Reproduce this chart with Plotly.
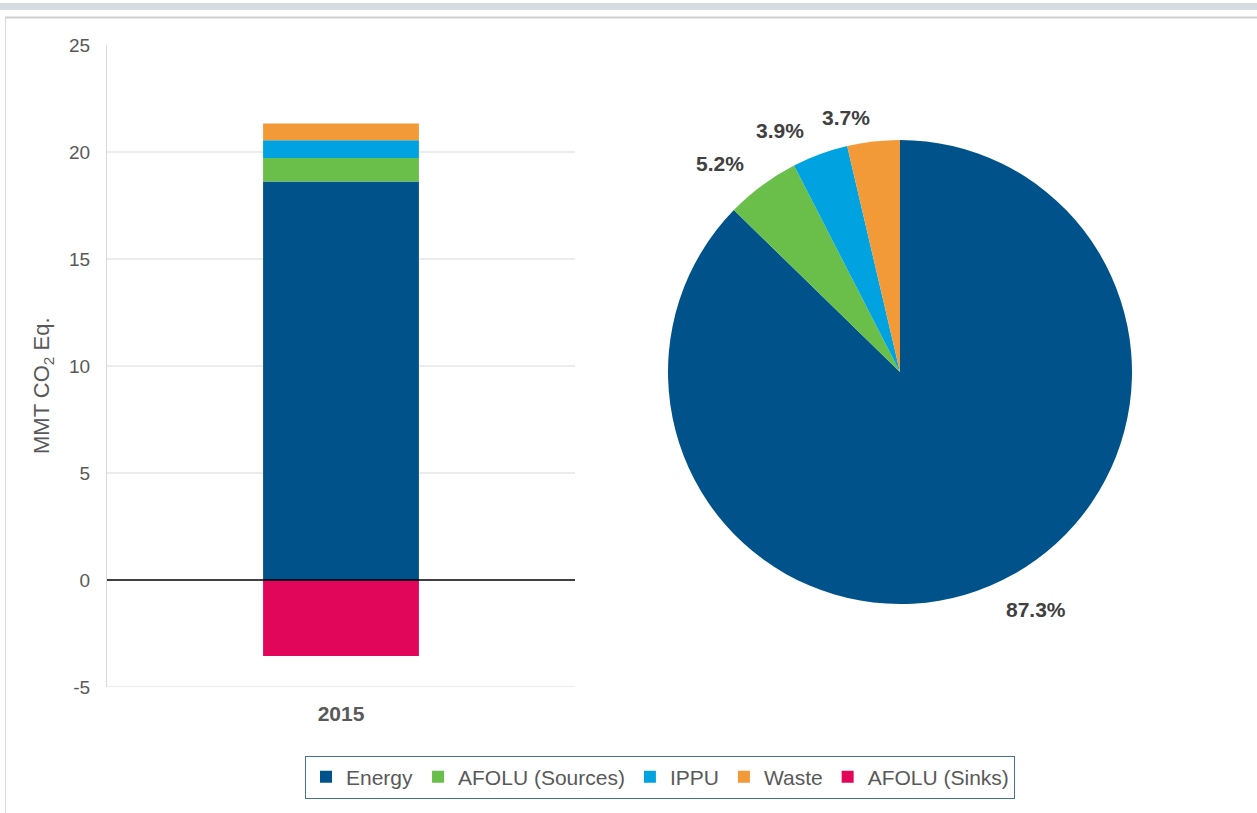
import math
import plotly.graph_objects as go

W, H = 1257, 813

categories = ["2015"]
series = ["Energy", "AFOLU (Sources)", "IPPU", "Waste", "AFOLU (Sinks)"]
values = [18.62, 1.10, 0.83, 0.78, -3.55]
colors = ["#00538A", "#6ABF4B", "#00A3E0", "#F39A38", "#E1065A"]
pie_labels = ["Energy", "AFOLU (Sources)", "IPPU", "Waste"]
pie_values = [18.62, 1.10, 0.83, 0.78]
y_ticks = [-5, 0, 5, 10, 15, 20, 25]
y_ticktext = ["-5", "0", "5", "10", "15", "20", "25"]
grid_vals = [-5, 5, 10, 15, 20]

FONT = "Liberation Sans, Arial, sans-serif"
GRAY = "#595959"

def px_x(p):
    return p / W

def px_y(p):
    return 1 - p / H

# pie geometry (pixels)
PIE_L, PIE_R, PIE_T, PIE_B = 668, 1132, 140, 604
PCX, PCY = (PIE_L + PIE_R) / 2, (PIE_T + PIE_B) / 2
PR = (PIE_R - PIE_L) / 2

fig = go.Figure()
for name, v, c in zip(series, values, colors):
    fig.add_trace(go.Bar(x=categories, y=[v], name=name, marker=dict(color=c, line=dict(width=0)),
                         xaxis="x", yaxis="y"))

fig.add_trace(go.Pie(labels=pie_labels, values=pie_values, sort=False, direction="clockwise",
                     rotation=0, marker=dict(colors=colors[:4], line=dict(width=0)),
                     textinfo="none", showlegend=False, hoverinfo="label+value+percent",
                     domain=dict(x=[px_x(PIE_L), px_x(PIE_R)], y=[px_y(PIE_B), px_y(PIE_T)]),
                     automargin=False))

# outside percentage labels, placed from the data (Excel-like placement)
annotations = []
total = sum(pie_values)
cum = 0.0
gap = 11
for v in pie_values:
    frac = v / total
    mid = (cum + frac / 2) * 2 * math.pi
    cum += frac
    s, c = math.sin(mid), math.cos(mid)
    px = PCX + (PR + gap) * s
    py = PCY - (PR + gap) * c
    if abs(s) > 0.2:
        xa = "left" if s > 0 else "right"
        xs = 10 if s > 0 else -10
    else:
        xa = "right"
        xs = 0
    ya = "top" if c < 0 else "bottom"
    annotations.append(dict(text="<b>%.1f%%</b>" % (frac * 100), xref="paper", yref="paper",
                            x=px_x(px), y=px_y(py), xanchor=xa, yanchor=ya, xshift=xs,
                            showarrow=False,
                            font=dict(size=21, color="#404040", family=FONT)))

annotations.append(dict(text="MMT CO<sub>2</sub> Eq.", xref="paper", yref="paper",
                        x=px_x(43), y=px_y(386), textangle=-90, showarrow=False,
                        font=dict(size=22, color=GRAY, family=FONT),
                        xanchor="center", yanchor="middle"))

shapes = []
for g in grid_vals:
    shapes.append(dict(type="line", xref="x domain", yref="y", x0=0, x1=1, y0=g, y1=g,
                       line=dict(color="#D9D9D9", width=1), layer="below"))
shapes.append(dict(type="line", xref="x domain", yref="y", x0=0, x1=1, y0=0, y1=0,
                   line=dict(color="#000000", width=1.3), layer="above"))
# page decorations
shapes.append(dict(type="rect", xref="paper", yref="paper", x0=0, x1=1, y0=px_y(10), y1=px_y(3),
                   fillcolor="#D6DDE2", line=dict(width=0)))
shapes.append(dict(type="line", xref="paper", yref="paper", x0=px_x(5), x1=1, y0=px_y(17.5), y1=px_y(17.5),
                   line=dict(color="#CFCFCF", width=2)))
shapes.append(dict(type="line", xref="paper", yref="paper", x0=px_x(5.5), x1=px_x(5.5), y0=0, y1=px_y(17.5),
                   line=dict(color="#DADADA", width=1)))

fig.update_layout(
    width=W, height=H,
    margin=dict(l=0, r=0, t=0, b=0),
    paper_bgcolor="white", plot_bgcolor="white",
    barmode="relative", bargap=0.667,
    font=dict(family=FONT, color=GRAY, size=19),
    xaxis=dict(domain=[px_x(107), px_x(575)], tickvals=categories,
               ticktext=["<b>" + c + "</b>" for c in categories],
               tickfont=dict(size=21, color=GRAY), showgrid=False, zeroline=False,
               showline=False, ticks="", ticklabelstandoff=12, automargin=False),
    yaxis=dict(domain=[px_y(687), px_y(45)], range=[-5, 25], tickvals=y_ticks, ticktext=y_ticktext,
               showgrid=False, zeroline=False, showline=True, linecolor="#D9D9D9", linewidth=1,
               tickfont=dict(size=19, color=GRAY), ticks="", ticklabelstandoff=12,
               automargin=False),
    shapes=shapes,
    annotations=annotations,
    legend=dict(orientation="h", xanchor="center", yanchor="middle", x=px_x(660), y=px_y(777),
                bordercolor="#41719C", borderwidth=1, bgcolor="white",
                font=dict(size=21, color=GRAY, family=FONT), traceorder="normal",
                itemwidth=30),
)

fig.write_html("out.html", config={"displayModeBar": False},
               post_script="document.body.style.margin='0px';")
